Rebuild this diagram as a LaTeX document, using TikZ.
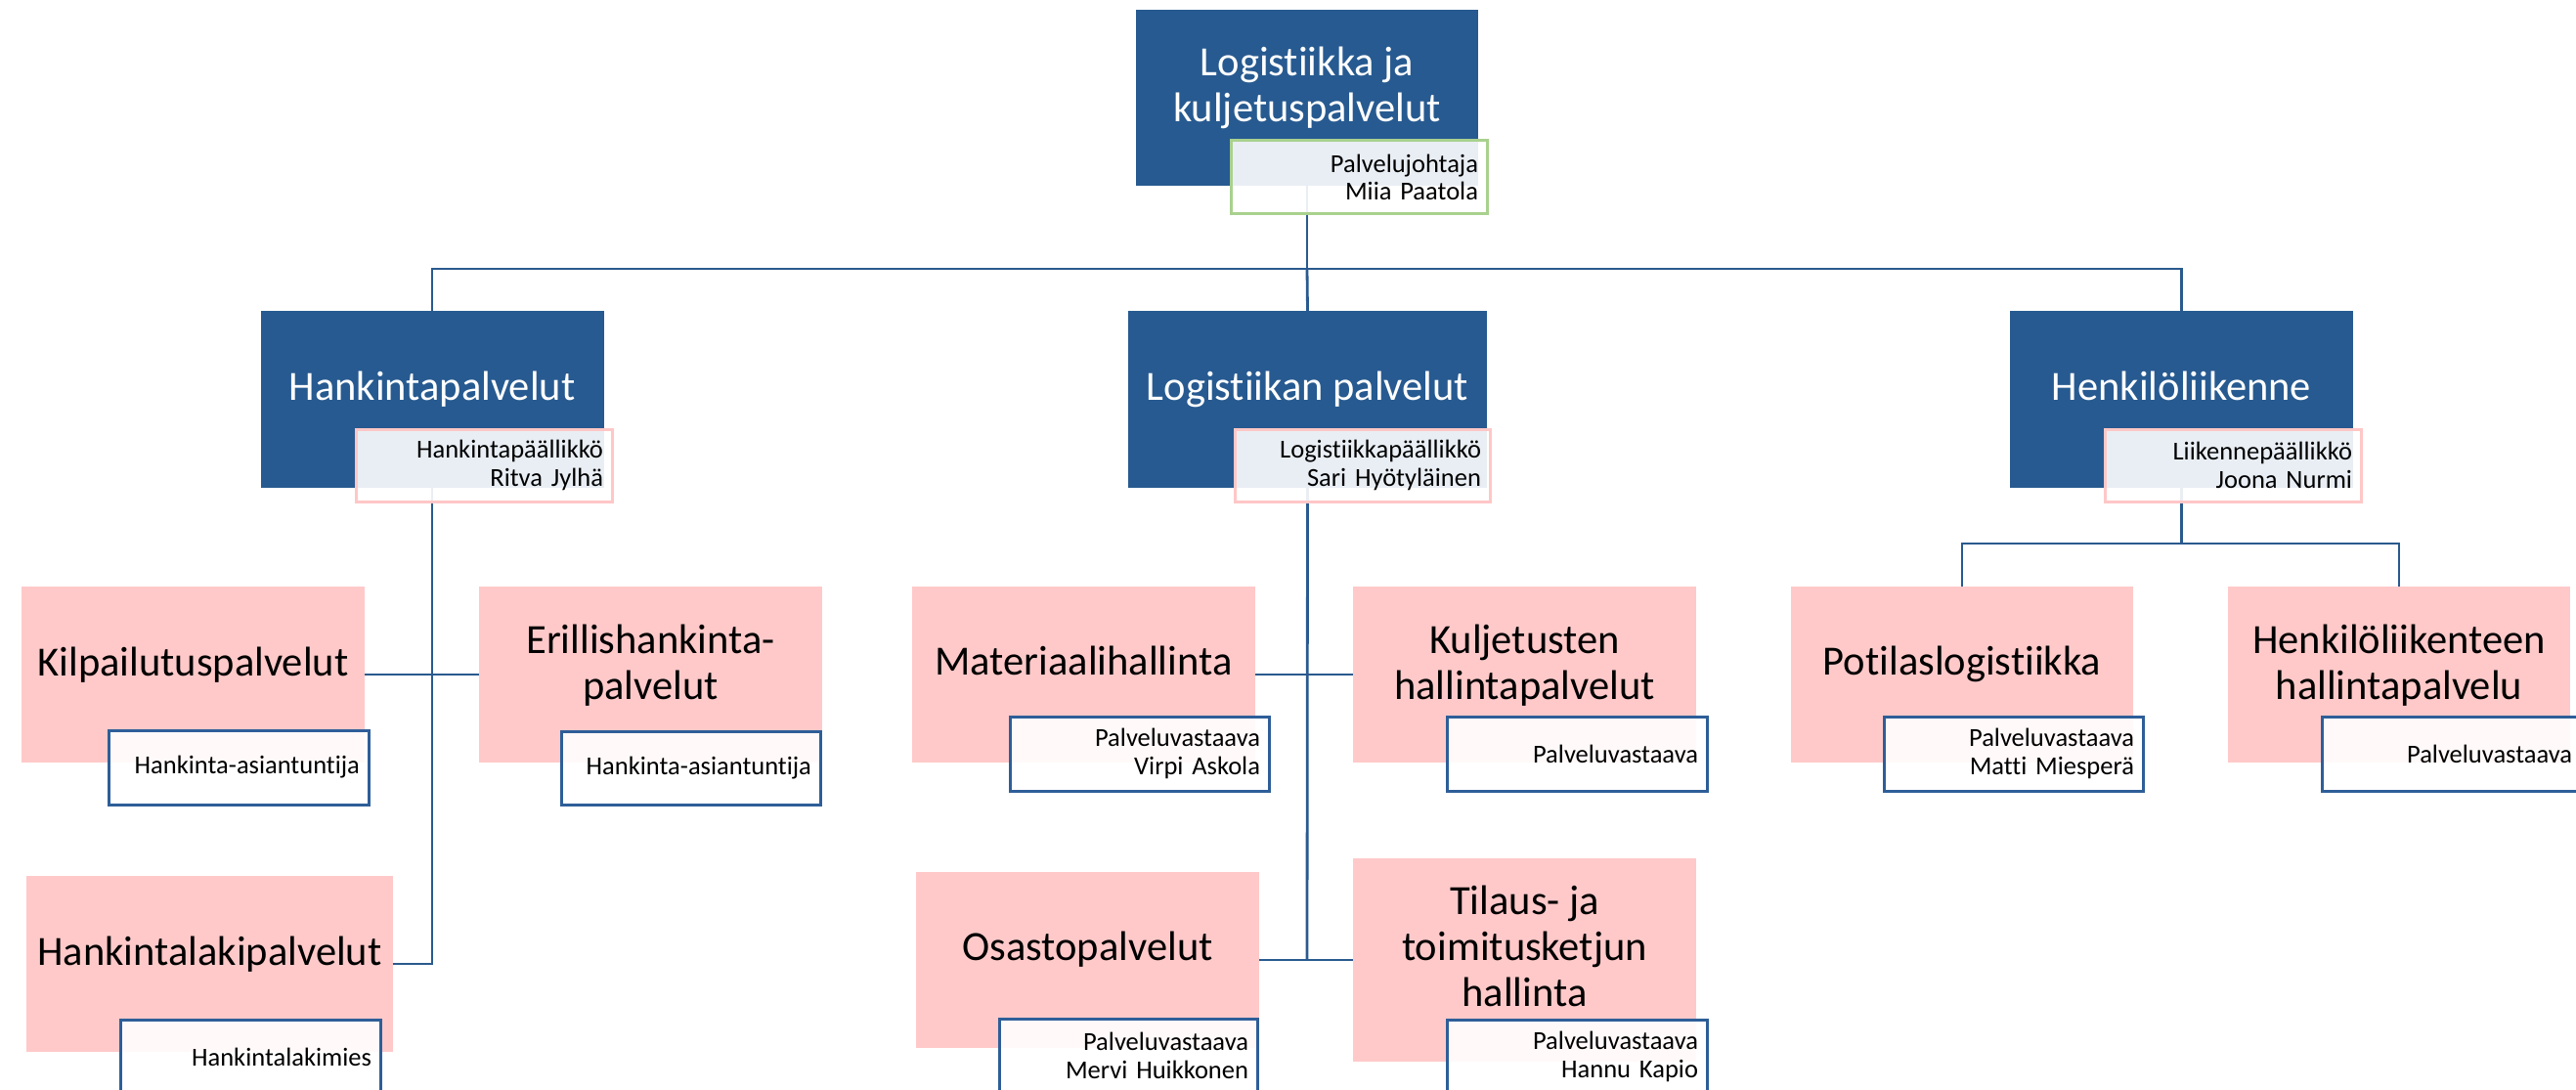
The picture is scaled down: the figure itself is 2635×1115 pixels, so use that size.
\documentclass[tikz,border=0pt]{standalone}
\usepackage{fontspec}
\setmainfont{Carlito}[Ligatures={NoCommon}]
\usetikzlibrary{backgrounds}
\definecolor{mainblue}{HTML}{275A90}
\definecolor{pinkfill}{HTML}{FFC9C9}
\definecolor{lineblue}{HTML}{2A5A8E}
\definecolor{subblue}{HTML}{2E5E98}
\definecolor{greenedge}{HTML}{A9D18E}
\definecolor{pinkedge}{HTML}{FFC7C7}
\tikzset{
  headbox/.style={fill=mainblue, draw=none, inner sep=0pt},
  unitbox/.style={fill=pinkfill, draw=none, inner sep=0pt},
  headtext/.style={text=white, font=\fontsize{42.5}{47}\selectfont, align=center, inner sep=0pt},
  unittext/.style={text=black, font=\fontsize{42.5}{47}\selectfont, align=center, inner sep=0pt},
  subbox/.style={fill=white, fill opacity=0.9, text opacity=1, line width=3pt,
     inner xsep=9pt, inner ysep=0pt, align=right, text=black,
     font=\fontsize{26.5}{28.5}\selectfont},
  headsub/.style={subbox, draw=pinkedge},
  topsub/.style={subbox, draw=greenedge},
  unitsub/.style={subbox, draw=subblue},
  conn/.style={draw=lineblue, line width=2.8pt},
}
\newcommand{\bx}[6]{% style, name, cx, cy, w, h
  \node[#1, minimum width=#5pt, minimum height=#6pt] (#2) at (#3,#4) {};}
\newcommand{\sbx}[7]{% style, name, cx, cy, w, h, text
  \node[#1, minimum width=#5pt, minimum height=#6pt, text width=#5pt-18pt] (#2) at (#3,#4) {#7};}
\begin{document}
\begin{tikzpicture}[x=1pt,y=-1pt]
\useasboundingbox (0,0) rectangle (2635,1115);
\clip (0,0) rectangle (2635,1115);

% ---- level 1
\bx{headbox}{top}{1337}{100}{350}{180}
\node[headtext, anchor=center] (ttop) at (1337,90) {Logistiikka ja\\kuljetuspalvelut};
\sbx{topsub}{topsub}{1390}{181.5}{262}{75}{Palvelujohtaja\\Miia Paatola}

% ---- level 2
\bx{headbox}{hank}{442}{408.5}{351}{181}
\node[headtext, anchor=base] (thank) at (442,409) {Hankintapalvelut};
\sbx{headsub}{hanksub}{495}{476}{262}{74}{Hankintapäällikkö\\Ritva Jylhä}

\bx{headbox}{logp}{1337.5}{408.5}{367}{181}
\node[headtext, anchor=base] (tlogp) at (1337.5,409) {Logistiikan palvelut};
\sbx{headsub}{logpsub}{1393.5}{476}{261}{74}{Logistiikkapäällikkö\\Sari Hyötyläinen}

\bx{headbox}{henk}{2231.5}{408.5}{351}{181}
\node[headtext, anchor=base] (thenk) at (2231.5,409) {Henkilöliikenne};
\sbx{headsub}{henksub}{2284}{476}{262}{74}{Liikennepäällikkö\\Joona Nurmi}

% ---- level 3: Hankinta
\bx{unitbox}{kilp}{197.5}{690}{351}{180}
\node[unittext, anchor=base] (tkilp) at (197.5,691) {Kilpailutuspalvelut};
\sbx{unitsub}{kilpsub}{244}{785}{266}{76}{Hankinta-asiantuntija}

\bx{unitbox}{eril}{665.5}{690}{351}{180}
\node[unittext, anchor=center] (teril) at (665.5,681) {Erillishankinta-\\palvelut};
\sbx{unitsub}{erilsub}{706.5}{785.5}{265}{75}{Hankinta-asiantuntija}

\bx{unitbox}{hlaki}{214.5}{986}{375}{180}
\node[unittext, anchor=base] (thlaki) at (214.5,987) {Hankintalakipalvelut};
\sbx{unitsub}{hlakisub}{256}{1081}{266}{76}{Hankintalakimies}

% ---- level 3: Logistiikan palvelut
\bx{unitbox}{mat}{1108.5}{690}{351}{180}
\node[unittext, anchor=base] (tmat) at (1108.5,690) {Materiaalihallinta};
\sbx{unitsub}{matsub}{1165.5}{771}{265}{76}{Palveluvastaava\\Virpi Askola}

\bx{unitbox}{kulj}{1559.5}{690}{351}{180}
\node[unittext, anchor=center] (tkulj) at (1559.5,681) {Kuljetusten\\hallintapalvelut};
\sbx{unitsub}{kuljsub}{1613}{771}{266}{76}{Palveluvastaava}

\bx{unitbox}{osa}{1112.5}{982}{351}{180}
\node[unittext, anchor=base] (tosa) at (1112.5,982) {Osastopalvelut};
\sbx{unitsub}{osasub}{1154}{1080}{264}{76}{Palveluvastaava\\Mervi Huikkonen}

\bx{unitbox}{til}{1559.5}{982}{351}{208}
\node[unittext, anchor=center] (ttil) at (1559.5,968) {Tilaus- ja\\toimitusketjun\\hallinta};
\sbx{unitsub}{tilsub}{1613}{1081}{266}{76}{Palveluvastaava\\Hannu Kapio}

% ---- level 3: Henkilöliikenne
\bx{unitbox}{pot}{2007}{690}{350}{180}
\node[unittext, anchor=base] (tpot) at (2007,690) {Potilaslogistiikka};
\sbx{unitsub}{potsub}{2059.5}{771}{265}{76}{Palveluvastaava\\Matti Miesperä}

\bx{unitbox}{hen}{2454}{690}{350}{180}
\node[unittext, anchor=center] (then) at (2454,681) {Henkilöliikenteen\\hallintapalvelu};
\sbx{unitsub}{hensub}{2507.5}{771}{265}{76}{Palveluvastaava}

% ---- connectors
\coordinate (bus) at (1337,275);
\coordinate (hankend) at (442,986);
\coordinate (logend) at (1337,982);
\coordinate (henkbus) at (2231.5,556);
\begin{pgfonlayer}{background}
  \draw[conn] (top.south) -- (bus);
  \draw[conn] (bus) -| (hank.north);
  \draw[conn] (bus) -| (henk.north);
  \draw[conn] (bus) -- (logp.north);
  \draw[conn] (hank.south) -- (hankend) -- (hlaki.east);
  \draw[conn] (kilp.east) -- (eril.west);
  \draw[conn] (logp.south) -- (logend);
  \draw[conn] (mat.east) -- (kulj.west);
  \draw[conn] (osa.east) -- (til.west);
  \draw[conn] (henk.south) -- (henkbus);
  \draw[conn] (henkbus) -| (pot.north);
  \draw[conn] (henkbus) -| (hen.north);
\end{pgfonlayer}
\end{tikzpicture}
\end{document}
